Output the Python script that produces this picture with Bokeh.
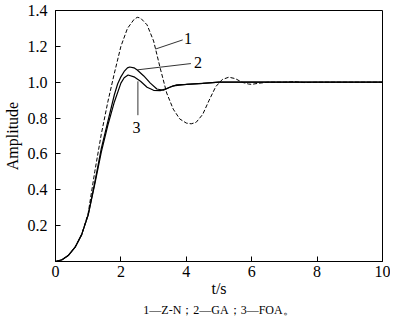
from bokeh.plotting import figure
from bokeh.models import Range1d, FixedTicker, Label, Segment, ColumnDataSource, Title
from bokeh.embed import file_html
from bokeh.resources import INLINE

# Series 1: Z-N (dashed)
t_zn = [0, 0.2, 0.4, 0.6, 0.8, 1.0, 1.2, 1.4, 1.6, 1.8, 2.0, 2.2, 2.4, 2.5, 2.6, 2.8, 3.0, 3.2, 3.4, 3.6,
        3.8, 4.0, 4.15, 4.3, 4.5, 4.7, 4.9, 5.1, 5.3, 5.5, 5.7, 5.9, 6.0, 6.2, 6.5, 7.0, 7.3, 7.6, 8.0, 9.0, 10.0]
y_zn = [0, 0.01, 0.035, 0.08, 0.15, 0.27, 0.5, 0.71, 0.89, 1.05, 1.2, 1.3, 1.35, 1.362, 1.358, 1.32, 1.23,
        1.08, 0.94, 0.85, 0.795, 0.772, 0.768, 0.776, 0.82, 0.9, 0.975, 1.015, 1.028, 1.02, 1.0, 0.99, 0.988,
        0.994, 1.0, 1.0, 1.003, 0.998, 1.0, 1.0, 1.0]

# Series 2: GA
t_ga = [0, 0.2, 0.4, 0.6, 0.8, 1.0, 1.2, 1.4, 1.6, 1.8, 1.9, 2.0, 2.1, 2.2, 2.27, 2.4, 2.5, 2.7, 2.9, 3.1,
        3.3, 3.5, 3.7, 4.0, 4.5, 5.0, 6.0, 7.0, 8.0, 10.0]
y_ga = [0, 0.01, 0.035, 0.08, 0.15, 0.26, 0.44, 0.63, 0.78, 0.93, 0.99, 1.03, 1.06, 1.08, 1.085, 1.08,
        1.068, 1.035, 0.995, 0.962, 0.955, 0.972, 0.985, 0.988, 0.994, 1.0, 1.0, 1.0, 1.0, 1.0]

# Series 3: FOA
t_foa = [0, 0.2, 0.4, 0.6, 0.8, 1.0, 1.2, 1.4, 1.6, 1.8, 2.0, 2.1, 2.22, 2.4, 2.6, 2.8, 3.0, 3.2, 3.4, 3.6,
         4.0, 4.5, 5.0, 6.0, 7.0, 8.0, 10.0]
y_foa = [0, 0.01, 0.035, 0.08, 0.15, 0.26, 0.43, 0.61, 0.76, 0.89, 0.995, 1.025, 1.04, 1.03, 1.005, 0.972,
         0.955, 0.953, 0.965, 0.98, 0.988, 0.993, 1.0, 1.0, 1.0, 1.0, 1.0]

x_ticks = [0, 2, 4, 6, 8, 10]
y_ticks = [0.2, 0.4, 0.6, 0.8, 1.0, 1.2, 1.4]
y_tick_labels = ["0.2", "0.4", "0.6", "0.8", "1.0", "1.2", "1.4"]
x_label = "t/s"
caption = "1\u2014Z-N\uff1b2\u2014GA\uff1b3\u2014FOA\u3002"

SERIF = "Liberation Serif"

p = figure(width=390, height=317, output_backend="svg", toolbar_location=None,
           x_range=Range1d(0, 10), y_range=Range1d(0, 1.4),
           min_border_left=45, min_border_right=8, min_border_top=10, min_border_bottom=5)
p.background_fill_color = "white"
p.border_fill_color = "white"
p.outline_line_color = "black"
p.outline_line_width = 1
p.xgrid.visible = False
p.ygrid.visible = False

p.xaxis.ticker = FixedTicker(ticks=x_ticks)
p.yaxis.ticker = FixedTicker(ticks=y_ticks)
p.yaxis.major_label_overrides = {v: s for v, s in zip(y_ticks, y_tick_labels)}
for ax in (p.xaxis, p.yaxis):
    ax.major_tick_in = 5
    ax.major_tick_out = 0
    ax.minor_tick_in = 0
    ax.minor_tick_out = 0
    ax.axis_line_color = "black"
    ax.major_tick_line_color = "black"
    ax.major_label_text_font = SERIF
    ax.major_label_text_font_size = "16px"
    ax.major_label_text_color = "black"
    ax.axis_label_text_font = SERIF
    ax.axis_label_text_font_size = "16px"
    ax.axis_label_text_font_style = "normal"
    ax.axis_label_text_color = "black"
p.xaxis.major_label_standoff = 4
p.yaxis.major_label_standoff = 8
p.yaxis.axis_label = "Amplitude"
p.yaxis.axis_label_standoff = 4
p.xaxis.axis_label = x_label
p.xaxis.axis_label_standoff = 0

p.line(t_zn, y_zn, line_color="black", line_width=1, line_dash="4 2")
p.line(t_ga, y_ga, line_color="black", line_width=1.2)
p.line(t_foa, y_foa, line_color="black", line_width=1.2)

# leader lines for curve numbers
lead = ColumnDataSource(dict(x0=[3.06, 2.51, 2.52], y0=[1.185, 1.069, 1.005],
                             x1=[3.89, 4.14, 2.52], y1=[1.236, 1.104, 0.816]))
p.add_glyph(lead, Segment(x0="x0", y0="y0", x1="x1", y1="y1", line_color="black", line_width=0.8))

for txt, x, y in [("1", 4.05, 1.245), ("2", 4.36, 1.108), ("3", 2.48, 0.745)]:
    p.add_layout(Label(x=x, y=y, text=txt, text_font=SERIF, text_font_size="16px",
                       text_align="center", text_baseline="middle", text_color="black"))

p.add_layout(Title(text=caption, text_font=SERIF, text_font_size="12px", text_font_style="normal",
                   align="center", standoff=2, text_color="black"), "below")

open("out.html", "w").write(file_html(p, INLINE))
